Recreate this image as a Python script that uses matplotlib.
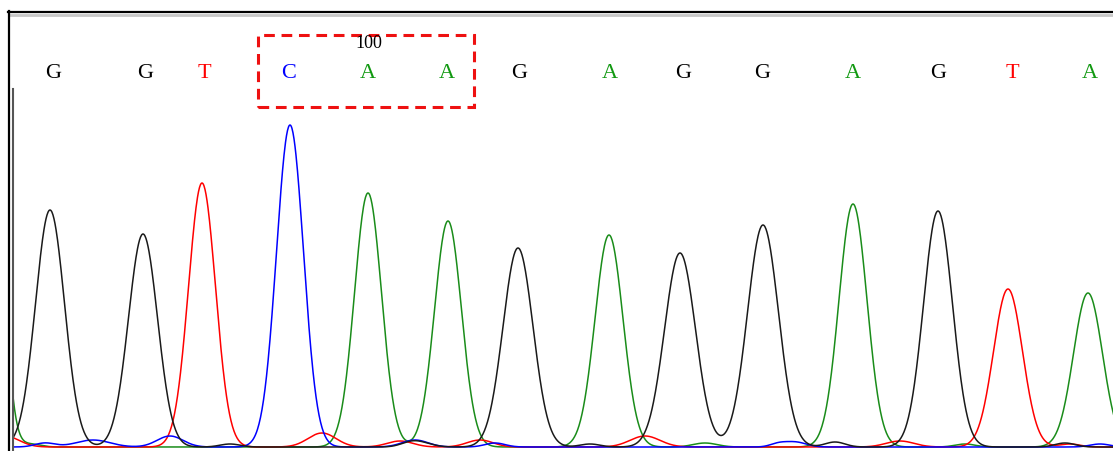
import matplotlib
matplotlib.use("Agg")
import matplotlib.pyplot as plt
import numpy as np
from matplotlib.patches import Rectangle
from matplotlib.lines import Line2D

# base calls shown above the trace
calls = list("GGTCAAGAGGAGTA")
call_x = [53, 145, 204, 289, 368, 447, 519, 610, 683, 762, 853, 938, 1012, 1090]
call_colors = {"G": "black", "A": "#119911", "T": "red", "C": "blue"}

# peaks per channel: position, height, width
g_pos = [50, 143, 518, 680, 763, 938, 230, 420, 590, 835, 1065, 410]
g_height = [237, 213, 199, 194, 222, 236, 3, 4, 3, 5, 4, 3]
g_width = [14.5, 14.5, 15, 15.5, 15.5, 14.5, 10, 12, 10, 10, 10, 10]

a_pos = [-5, 368, 448, 609, 853, 1088, 705, 965, 30]
a_height = [250, 254, 226, 212, 243, 154, 4, 3, 3]
a_width = [10, 13.5, 13.5, 14, 14, 14.5, 12, 10, 10]

t_pos = [202, 1008, 5, 322, 400, 480, 645, 900, 1070]
t_height = [264, 158, 11, 14, 6, 7, 11, 6, 3]
t_width = [13.5, 14.5, 14, 14, 13, 13, 15, 14, 10]

c_pos = [290, 93, 170, 415, 495, 778, 795, 1100, 45]
c_height = [322, 7, 11, 7, 4, 3, 5, 3, 4]
c_width = [13.5, 17, 13, 13, 10, 8, 11, 10, 10]

marker_label = "100"
marker_x = 369

box_x0, box_x1 = 258, 474


def trace(x, pos, height, width):
    y = np.zeros_like(x)
    for p, h, w in zip(pos, height, width):
        y += h * np.exp(-0.5 * ((x - p) / w) ** 2)
    return y


W, H = 1113, 451
fig = plt.figure(figsize=(W / 100, H / 100), dpi=100)
fig.patch.set_facecolor("white")

# plot area: baseline at y=447px, top border at y=12px
ax = fig.add_axes([12 / W, (H - 448) / H, (W - 12) / W, (448 - 12) / H])
ax.set_xlim(12, W)
ax.set_ylim(-1, 435)
ax.axis("off")

x = np.linspace(-20, 1130, 2301)
ax.plot(x, trace(x, a_pos, a_height, a_width), color="#1a8c1a", lw=1.1)
ax.plot(x, trace(x, t_pos, t_height, t_width), color="red", lw=1.1)
ax.plot(x, trace(x, c_pos, c_height, c_width), color="blue", lw=1.1)
ax.plot(x, trace(x, g_pos, g_height, g_width), color="#1a1a1a", lw=1.1)

for b, cx in zip(calls, call_x):
    ax.text(cx, 374, b, color=call_colors[b], fontsize=16, ha="center", va="center",
            family="Liberation Serif")
ax.text(marker_x, 404, marker_label, color="black", fontsize=13, ha="center", va="center",
        family="Liberation Serif")

ax.add_patch(Rectangle((box_x0, 340), box_x1 - box_x0, 72, fill=False, edgecolor="#ee1111",
                       lw=2.2, ls=(0, (3.5, 2.2)), clip_on=False))

# gray y axis line
ax.plot([12.5, 12.5], [-5, 358], color="#555555", lw=1.5, clip_on=False)

# window frame
fig.add_artist(Line2D([8 / W, 1], [1 - 11.5 / H, 1 - 11.5 / H], color="black", lw=1.6))
fig.add_artist(Line2D([9 / W, 1], [1 - 14.5 / H, 1 - 14.5 / H], color="#c8c8c8", lw=2))
fig.add_artist(Line2D([8.5 / W, 8.5 / W], [0, 1 - 11 / H], color="black", lw=1.6))

plt.savefig("out.png", dpi=100)
